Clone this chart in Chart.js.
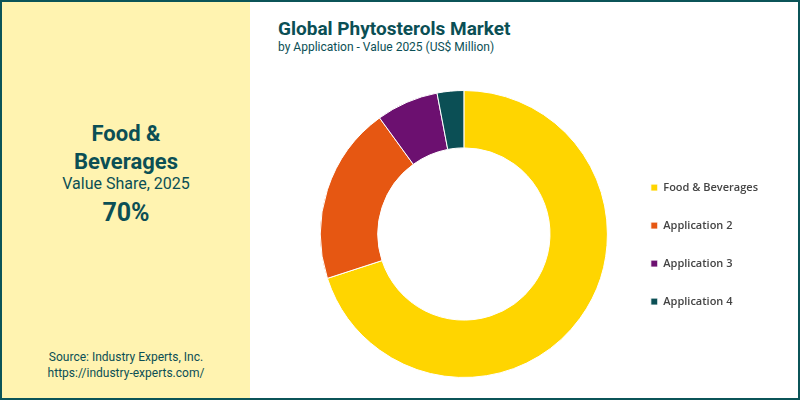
<!DOCTYPE html>
<html>
<head>
<meta charset="utf-8">
<script src="https://cdn.jsdelivr.net/npm/chart.js@4"></script>
<style>
  body { margin: 0; width: 800px; height: 400px; overflow: hidden; font-family: Roboto, sans-serif; }
  #frame { position: absolute; left: 0; top: 0; width: 796px; height: 396px; border: 2px solid #0b5458; background: #fff; }
  #side { position: absolute; left: 0; top: 0; width: 248px; height: 396px; background: #fff3b0; text-align: center; color: #0b4f55; }
  #hl1 { position: absolute; top: 118px; width: 248px; font-size: 22px; font-weight: 700; line-height: 28px; }
  #hl2 { position: absolute; top: 172px; width: 248px; font-size: 16px; }
  #hl3 { position: absolute; top: 196px; width: 248px; font-size: 25px; font-weight: 700; }
  #src { position: absolute; top: 347px; left: 0; width: 248px; font-size: 12px; line-height: 16px; color: #0b4f55; }
  #title { position: absolute; left: 276px; top: 15px; font-size: 19px; font-weight: 700; color: #0b4f55; }
  #sub { position: absolute; left: 276px; top: 38px; font-size: 12px; color: #0b4f55; }
  #wrap { position: absolute; left: 248px; top: 88px; width: 548px; height: 288px; }
</style>
</head>
<body>
<div id="frame">
  <div id="side">
    <div id="hl1">Food &amp;<br>Beverages</div>
    <div id="hl2">Value Share, 2025</div>
    <div id="hl3">70%</div>
    <div id="src">Source: Industry Experts, Inc.<br>https://industry-experts.com/</div>
  </div>
  <div id="title">Global Phytosterols Market</div>
  <div id="sub">by Application - Value 2025 (US$ Million)</div>
  <div id="wrap"><canvas id="chart"></canvas></div>
</div>
<script>
const categories = ["Food & Beverages", "Application 2", "Application 3", "Application 4"];
const shares = [70, 20, 7, 3];
const colors = ["#ffd500", "#e65712", "#6c1070", "#0b4f55"];

new Chart(document.getElementById("chart"), {
  type: 'doughnut',
  data: {
    labels: categories,
    datasets: [{
      data: shares,
      backgroundColor: colors,
      borderColor: '#ffffff',
      borderWidth: 1
    }]
  },
  options: {
    animation: false,
    maintainAspectRatio: false,
    responsive: true,
    cutout: '60%',
    layout: { padding: { left: 54, right: 30 } },
    plugins: {
      tooltip: { enabled: false },
      legend: {
        position: 'right',
        title: { display: true, text: ' ', font: { size: 1 }, padding: { top: 10, bottom: 10 } },
        labels: {
          boxWidth: 7,
          boxHeight: 7,
          padding: 27,
          color: '#444',
          font: { family: 'Open Sans', size: 11, weight: '600' }
        }
      }
    }
  }
});
</script>
</body>
</html>
